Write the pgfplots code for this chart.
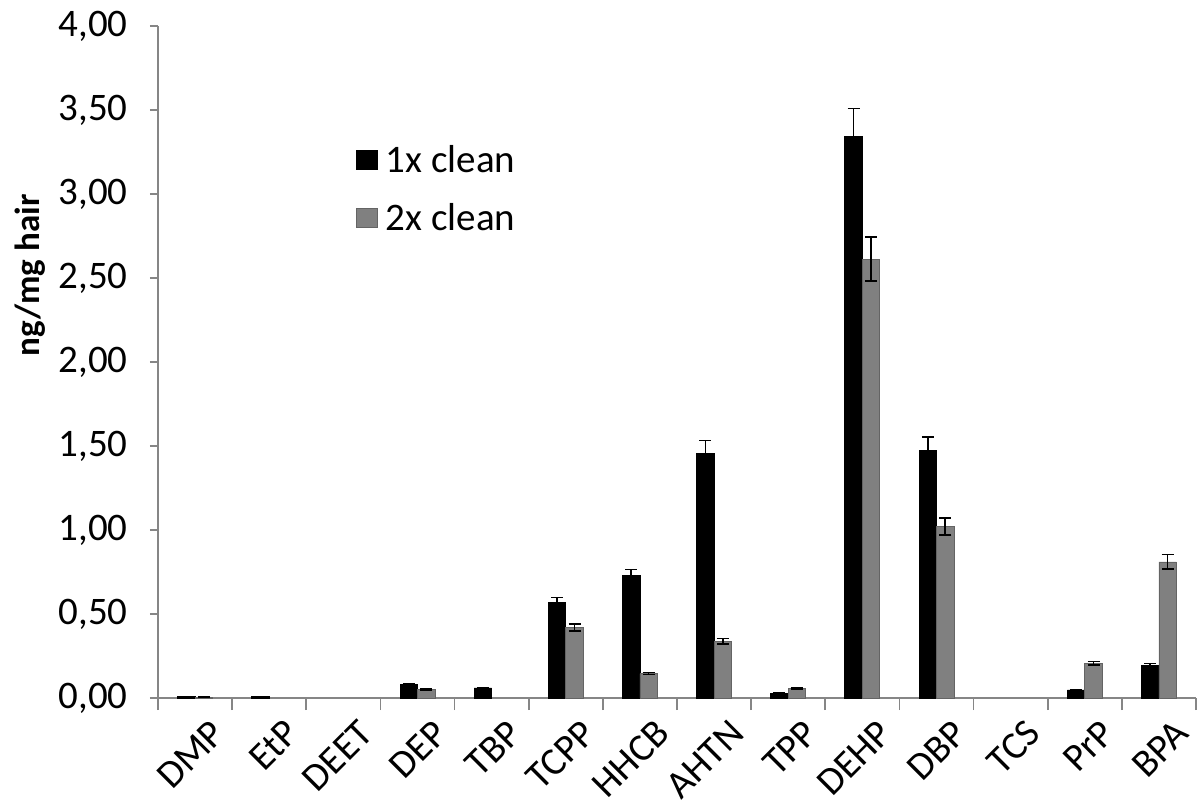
\documentclass[border=0pt]{standalone}
\usepackage{fontspec}
\setmainfont{Carlito}
\usepackage{pgfplots}
\pgfplotsset{compat=1.18}
\definecolor{barblack}{RGB}{0,0,0}
\definecolor{bargray}{RGB}{128,128,128}
\definecolor{bargrayedge}{RGB}{100,100,100}
\definecolor{axisgray}{RGB}{134,134,134}
\begin{document}
\begin{tikzpicture}
\begin{axis}[
  width=519pt, height=336pt, scale only axis,
  xmin=-0.5, xmax=13.5, ymin=0, ymax=4,
  axis x line*=bottom, axis y line*=left,
  axis line style={draw=axisgray, line width=0.8pt},
  ybar, bar width=0.236,
  ytick={0,0.5,...,4},
  xtick={0,...,13},
  xticklabels={DMP,EtP,DEET,DEP,TBP,TCPP,HHCB,AHTN,TPP,DEHP,DBP,TCS,PrP,BPA},
  minor xtick={-0.5,0.5,...,13.5},
  major x tick style={draw=none},
  tick style={draw=axisgray, line width=0.8pt},
  tick align=outside,
  major tick length=4pt, minor tick length=6pt,
  /pgf/number format/assume math mode=true,
  yticklabel style={/pgf/number format/.cd, fixed, fixed zerofill, precision=2, use comma, /tikz/.cd, xshift=-7.7pt},
  tick label style={font=\fontsize{19.5}{23}\selectfont},
  xticklabel style={xshift=14pt, yshift=-8pt, rotate=45, anchor=east},
  ylabel={\bfseries ng/mg hair},
  every axis y label/.style={at={(axis description cs:-0.1233,0.629)}, rotate=90, anchor=center, font=\fontsize{17.5}{21}\selectfont},
  legend style={at={(0.185,0.835)}, anchor=north west, draw=none, fill=none,
    font=\fontsize{19.5}{23}\selectfont, row sep=10pt},
  legend cell align=left,
  legend image code/.code={\draw[#1] (0pt,-4.75pt) rectangle (10.5pt,4.75pt); \path[draw=none,fill=none] (12.5pt,0pt);},
  error bars/error bar style={black, line width=0.8pt},
  error bars/error mark options={black, line width=0.8pt, mark size=3pt, rotate=90},
]
\coordinate (O) at (rel axis cs:0,0);
\addplot[fill=barblack, draw=barblack, bar shift=-0.118,
  error bars/.cd, y dir=both, y explicit] coordinates {
  (0,0.01) +- (0,0)
  (1,0.01) +- (0,0)
  (3,0.08) +- (0,0.004)
  (4,0.06) +- (0,0.003)
  (5,0.567) +- (0,0.032)
  (6,0.728) +- (0,0.038)
  (7,1.458) +- (0,0.075)
  (8,0.026) +- (0,0.003)
  (9,3.34) +- (0,0.17)
  (10,1.475) +- (0,0.077)
  (12,0.048) +- (0,0.003)
  (13,0.195) +- (0,0.01)
};
\addlegendentry{1x clean}
\addplot[fill=bargray, draw=bargrayedge, bar shift=0.118,
  error bars/.cd, y dir=both, y explicit] coordinates {
  (0,0.005) +- (0,0)
  (3,0.052) +- (0,0.003)
  (5,0.42) +- (0,0.022)
  (6,0.145) +- (0,0.006)
  (7,0.338) +- (0,0.016)
  (8,0.058) +- (0,0.003)
  (9,2.613) +- (0,0.13)
  (10,1.022) +- (0,0.05)
  (12,0.207) +- (0,0.01)
  (13,0.81) +- (0,0.043)
};
\addlegendentry{2x clean}
\end{axis}
\pgfresetboundingbox
\path (O) ++(-79pt,-55.5pt) rectangle ++(602pt,404.5pt);
\end{tikzpicture}
\end{document}
